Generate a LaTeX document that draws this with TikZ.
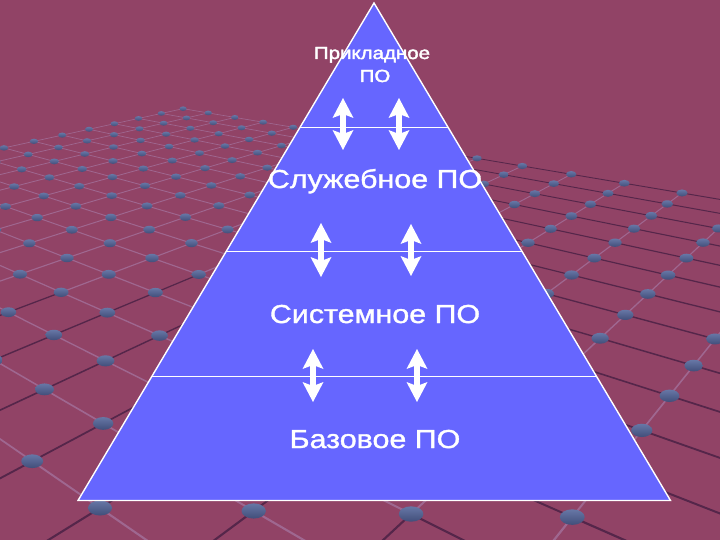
\documentclass[tikz,border=0pt]{standalone}
\usepackage{fontspec}
\setmainfont{Liberation Sans}
\newfontfamily\labfont[FakeStretch=1.17,FakeBold=1.3]{Liberation Sans}
\newfontfamily\smlfont[FakeStretch=1.17,FakeBold=2.2]{Liberation Sans}
\usetikzlibrary{arrows.meta,calc}
\definecolor{bgcol}{HTML}{914366}
\definecolor{pyrblue}{HTML}{6666FF}
\definecolor{rodDark}{HTML}{55264A}
\definecolor{rodLight}{HTML}{9F6790}
\definecolor{dotTop}{HTML}{6777A6}
\definecolor{dotBot}{HTML}{414E7A}
\newcommand\gridpos[2]{%
  \pgfmathsetmacro\gw{1-0.09345*(#1)-0.081772*(#2)}%
  \pgfmathsetmacro\gx{(64.76*(#1)-86.0*(#2)+100)/\gw}%
  \pgfmathsetmacro\gy{(3.68*(#1)+6.667*(#2)+508)/\gw}%
}
\tikzset{
  bigtext/.style={text=white, font=\labfont\fontsize{26}{30}\selectfont, anchor=base, inner sep=0pt},
  smalltext/.style={text=white, font=\smlfont\fontsize{17.5}{23}\selectfont, anchor=base, inner sep=0pt},
  divline/.style={white, line width=1.2pt},
  pyredge/.style={white, line width=1.4pt, line join=miter},
  dblarrow/.style={white, line width=5.5pt,
    {Stealth[length=20pt,width=21pt,inset=4pt,line width=0pt]}-{Stealth[length=20pt,width=21pt,inset=4pt,line width=0pt]}}
}
\begin{document}
\begin{tikzpicture}[x=1pt,y=-1pt]
\fill[bgcol] (0,0) rectangle (720,540);
\useasboundingbox (0,0) rectangle (720,540);
% perspective grid
\begin{scope}
\clip (0,0) rectangle (720,540);
\foreach \u in {-12,...,5}{
  \foreach \v in {-15,...,2}{
    \gridpos{\u}{\v}
    \let\ax\gx \let\ay\gy \let\aw\gw
    \ifnum\u<5
      \pgfmathtruncatemacro\un{\u+1}
      \gridpos{\un}{\v}
      \pgfmathsetmacro\mx{(\ax+\gx)/2}
      \pgfmathsetmacro\lw{2.0/((\aw+\gw)/2)}
      \pgfmathtruncatemacro\pc{\mx>420 ? 100 : 0}
      \draw[line width=\lw pt, rodDark!\pc!rodLight] (\ax,\ay) -- (\gx,\gy);
    \fi
    \ifnum\v<2
      \pgfmathtruncatemacro\vn{\v+1}
      \gridpos{\u}{\vn}
      \pgfmathsetmacro\mx{(\ax+\gx)/2}
      \pgfmathsetmacro\lw{2.0/((\aw+\gw)/2)}
      \pgfmathtruncatemacro\pc{(\mx<420 && \aw<1.7) ? 100 : 0}
      \draw[line width=\lw pt, rodDark!\pc!rodLight] (\ax,\ay) -- (\gx,\gy);
    \fi
  }
}
\foreach \u in {-12,...,4}{
  \foreach \v in {-15,...,1}{
    \gridpos{\u}{\v}
    \pgfmathsetmacro\rx{12/\gw}
    \pgfmathsetmacro\ry{7.5/\gw}
    \shade[top color=dotTop, bottom color=dotBot] (\gx,\gy) ellipse [x radius=\rx pt, y radius=\ry pt];
  }
}
\end{scope}
% pyramid
\coordinate (apex) at (374,3);
\coordinate (bl) at (78,500.5);
\coordinate (br) at (670.5,500.5);
\fill[pyrblue] (apex) -- (br) -- (bl) -- cycle;
\coordinate (d1l) at ($(apex)!0.25!(bl)$);
\coordinate (d1r) at ($(apex)!0.25!(br)$);
\coordinate (d2l) at ($(apex)!0.5!(bl)$);
\coordinate (d2r) at ($(apex)!0.5!(br)$);
\coordinate (d3l) at ($(apex)!0.75!(bl)$);
\coordinate (d3r) at ($(apex)!0.75!(br)$);
\draw[divline] (d1l) -- (d1r);
\draw[divline] (d2l) -- (d2r);
\draw[divline] (d3l) -- (d3r);
\draw[pyredge] (apex) -- (br) -- (bl) -- cycle;
% texts
\node[smalltext] (appl) at (372,59) {Прикладное};
\node[smalltext] (applpo) at (375,82) {ПО};
\node[bigtext] (util) at (375,188) {Служебное ПО};
\node[bigtext] (sys) at (375,323) {Системное ПО};
\node[bigtext] (base) at (375,448) {Базовое ПО};
% arrows
\coordinate (a1t) at (343,98);  \coordinate (a1b) at (343,150);
\coordinate (a2t) at (399,98);  \coordinate (a2b) at (399,150);
\coordinate (a3t) at (321,223); \coordinate (a3b) at (321,277);
\coordinate (a4t) at (411,224); \coordinate (a4b) at (411,276);
\coordinate (a5t) at (313,349); \coordinate (a5b) at (313,402);
\coordinate (a6t) at (417,349); \coordinate (a6b) at (417,402);
\draw[dblarrow] (a1t) -- (a1b);
\draw[dblarrow] (a2t) -- (a2b);
\draw[dblarrow] (a3t) -- (a3b);
\draw[dblarrow] (a4t) -- (a4b);
\draw[dblarrow] (a5t) -- (a5b);
\draw[dblarrow] (a6t) -- (a6b);
\end{tikzpicture}
\end{document}
